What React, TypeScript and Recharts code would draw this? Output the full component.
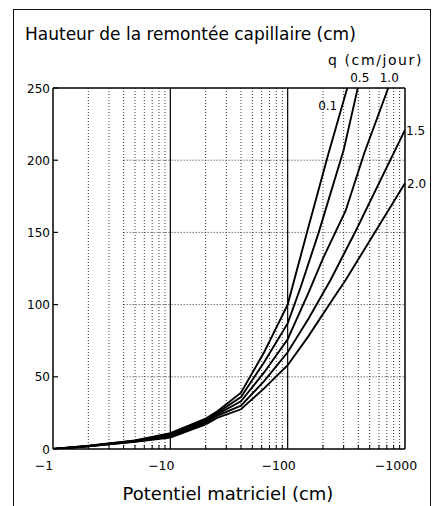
import { LineChart, Line, XAxis, YAxis, ReferenceLine } from 'recharts';

// q = flux (cm/jour); x = |potentiel matriciel| (cm), h = hauteur (cm)
const potentiel01 = [1, 2, 5, 10, 20, 25, 40, 63, 100, 146, 220, 322];
const hauteur01 = [0, 2.3, 6, 11, 21, 26, 39, 67, 100, 150, 203, 250];

const potentiel05 = [1, 2, 5, 10, 20, 25, 40, 63, 100, 129, 184, 300, 396];
const hauteur05 = [0, 2.1, 5.8, 10.5, 20, 25, 36, 60, 87, 112, 150, 207, 250];

const potentiel10 = [1, 2, 5, 10, 20, 25, 40, 63, 100, 150, 200, 312, 450, 720];
const hauteur10 = [0, 2, 5.5, 10, 19, 24, 33, 53, 76, 108, 132, 165, 205, 250];

const potentiel15 = [1, 2, 5, 10, 20, 25, 40, 63, 100, 150, 232, 380, 1000];
const hauteur15 = [0, 1.9, 5.2, 9, 18, 23, 30, 47, 67, 90, 117, 151, 221];

const potentiel20 = [1, 2, 5, 10, 20, 25, 40, 63, 100, 150, 239, 312, 1000];
const hauteur20 = [0, 1.8, 5, 8, 17, 21.5, 27.5, 42, 58, 78, 103, 117, 184];

const seriesNames = ['0.1', '0.5', '1.0', '1.5', '2.0'];

const yTicks = [0, 50, 100, 150, 200, 250];
const gridRows = [50, 100, 150, 200];
const decades = [1, 10, 100, 1000];
const decadeLabels = ['\u22121', '\u221210', '\u2212100', '\u22121000'];
const minorTicks = [
  2, 3, 4, 5, 6, 7, 8, 9,
  20, 30, 40, 50, 60, 70, 80, 90,
  200, 300, 400, 500, 600, 700, 800, 900,
];

const zip = (xs: number[], hs: number[]) => xs.map((x, i) => ({ x, h: hs[i] }));

const series = [
  { name: seriesNames[0], data: zip(potentiel01, hauteur01), dx: -10, dy: 22, anchor: 'end' },
  { name: seriesNames[1], data: zip(potentiel05, hauteur05), dx: 2, dy: -6, anchor: 'middle' },
  { name: seriesNames[2], data: zip(potentiel10, hauteur10), dx: 1, dy: -6, anchor: 'middle' },
  { name: seriesNames[3], data: zip(potentiel15, hauteur15), dx: 1, dy: 5, anchor: 'start' },
  { name: seriesNames[4], data: zip(potentiel20, hauteur20), dx: 2, dy: 5, anchor: 'start' },
];

const FONT = '"DejaVu Sans", Verdana, sans-serif';
const X_MARGIN = 4;
const Y_MARGIN = 3;

function XTick(props: any) {
  const { x, y, payload } = props;
  const axisY = y - X_MARGIN;
  const i = decades.indexOf(payload.value);
  return (
    <g>
      {i < 0 && <line x1={x} x2={x} y1={axisY} y2={axisY - 4} stroke="#000" strokeWidth={1} />}
      {i >= 0 && (
        <text x={x - 9} y={axisY + 21} textAnchor="middle" fontSize={12.5} fontFamily={FONT} fill="#000">
          {decadeLabels[i]}
        </text>
      )}
    </g>
  );
}

function YTick(props: any) {
  const { x, y, payload } = props;
  const axisX = x + Y_MARGIN;
  return (
    <g>
      <line x1={axisX} x2={axisX + 5} y1={y} y2={y} stroke="#000" strokeWidth={1.2} />
      <text x={x} y={y + 4.5} textAnchor="end" fontSize={12} fontFamily={FONT} fill="#000">
        {payload.value}
      </text>
    </g>
  );
}

export default function App() {
  return (
    <div style={{ position: 'fixed', left: 0, top: 0, width: 435, height: 506, background: '#fff', overflow: 'hidden' }}>
      <div
        style={{
          position: 'absolute', left: 13, top: 9, width: 418, height: 520,
          border: '1.5px solid #111', boxSizing: 'border-box',
        }}
      />
      <LineChart width={435} height={506} margin={{ top: 88, right: 30, bottom: 27, left: 12 }}>
        <XAxis
          type="number"
          dataKey="x"
          scale="log"
          domain={[1, 1000]}
          allowDataOverflow
          ticks={[...decades, ...minorTicks].sort((a, b) => a - b)}
          interval={0}
          tickLine={false}
          tickSize={0}
          tickMargin={X_MARGIN}
          tick={XTick}
          height={30}
          axisLine={{ stroke: '#000', strokeWidth: 1.5 }}
        />
        <YAxis
          type="number"
          domain={[0, 250]}
          allowDataOverflow
          ticks={yTicks}
          interval={0}
          tickLine={false}
          tickSize={0}
          tickMargin={Y_MARGIN}
          tick={YTick}
          width={41}
          axisLine={{ stroke: '#000', strokeWidth: 1.5 }}
        />
        {minorTicks.map((v) => (
          <ReferenceLine key={'v' + v} x={v} stroke="#333" strokeWidth={1} strokeDasharray="1 2" />
        ))}
        {gridRows.map((h) => (
          <ReferenceLine
            key={'h' + h}
            segment={[{ x: 4, y: h }, { x: 1000, y: h }]}
            stroke="#333"
            strokeWidth={1}
            strokeDasharray="1 2"
          />
        ))}
        <ReferenceLine x={10} stroke="#000" strokeWidth={1.2} />
        <ReferenceLine x={100} stroke="#000" strokeWidth={1.2} />
        <ReferenceLine x={1000} stroke="#000" strokeWidth={1.5} />
        <ReferenceLine y={250} stroke="#000" strokeWidth={1.5} />
        {series.map((s) => (
          <Line
            key={s.name}
            data={s.data}
            dataKey="h"
            type="linear"
            stroke="#000"
            strokeWidth={1.9}
            dot={false}
            isAnimationActive={false}
            label={(p: any) =>
              p.index === s.data.length - 1 ? (
                <text
                  x={p.x + s.dx}
                  y={p.y + s.dy}
                  textAnchor={s.anchor}
                  fontSize={12}
                  fontFamily={FONT}
                  fill="#000"
                >
                  {s.name}
                </text>
              ) : (
                <g />
              )
            }
          />
        ))}
      </LineChart>
      <svg width={435} height={506} style={{ position: 'absolute', left: 0, top: 0, pointerEvents: 'none' }}>
        <text x={25} y={40} fontSize={17} fontFamily={FONT} fill="#000">
          Hauteur de la remontée capillaire (cm)
        </text>
        <text x={328} y={65} fontSize={14} letterSpacing={1.6} fontFamily={FONT} fill="#000">
          q (cm/jour)
        </text>
        <text x={228} y={500} textAnchor="middle" fontSize={18} fontFamily={FONT} fill="#000">
          Potentiel matriciel (cm)
        </text>
      </svg>
    </div>
  );
}
